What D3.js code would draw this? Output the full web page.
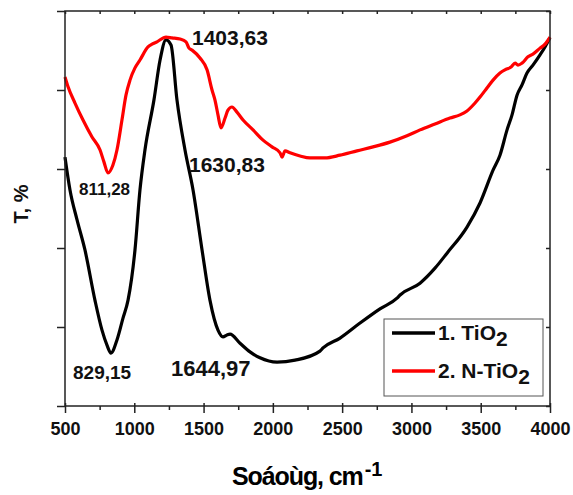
<!DOCTYPE html>
<html>
<head>
<meta charset="utf-8">
<script src="https://cdn.jsdelivr.net/npm/d3@7"></script>
<style>
  body { margin: 0; background: #fff; }
  svg { display: block; font-family: "Liberation Sans", Arial, sans-serif; }
</style>
</head>
<body>
<script>
// wavenumber (cm-1) and transmittance (%, arbitrary scale)
var tio2Wave = [500, 536, 587, 644, 716, 767, 803, 832, 875, 919, 955, 1005, 1041, 1077, 1142, 1186, 1229, 1265, 1308, 1366, 1424, 1489, 1546, 1604, 1640, 1669, 1691, 1763, 1835, 1907, 2030, 2160, 2340, 2362, 2485, 2629, 2773, 2896, 2918, 3062, 3170, 3257, 3401, 3495, 3589, 3639, 3690, 3726, 3762, 3798, 3834, 3877, 3928, 3964, 4000];
var tio2T = [63.0, 54.7, 47.1, 39.5, 26.8, 19.2, 15.4, 13.4, 16.7, 22.3, 26.8, 39.5, 54.7, 64.8, 77.5, 87.6, 92.7, 91.4, 77.5, 64.8, 54.7, 39.5, 26.8, 19.2, 17.5, 18.0, 18.2, 15.9, 13.7, 12.2, 11.1, 11.6, 13.9, 14.7, 17.2, 21.0, 24.6, 27.3, 28.1, 31.1, 34.9, 38.7, 45.3, 51.4, 59.7, 63.5, 69.9, 73.7, 78.7, 81.3, 84.3, 86.3, 88.9, 90.9, 93.2];

var ntio2Wave = [500, 522, 572, 630, 695, 753, 781, 810, 846, 875, 911, 940, 969, 1005, 1041, 1099, 1128, 1164, 1229, 1272, 1330, 1373, 1395, 1417, 1474, 1525, 1561, 1582, 1604, 1626, 1655, 1676, 1705, 1741, 1785, 1857, 1929, 1994, 2052, 2066, 2088, 2124, 2196, 2268, 2376, 2485, 2607, 2723, 2845, 2968, 3062, 3170, 3278, 3350, 3401, 3459, 3495, 3545, 3589, 3639, 3675, 3719, 3748, 3769, 3798, 3841, 3877, 3928, 3964, 4000];
var ntio2T = [83.3, 80.8, 76.7, 72.4, 68.1, 64.8, 61.8, 59.0, 61.0, 64.8, 72.4, 78.7, 82.5, 85.6, 87.6, 90.9, 91.6, 92.2, 93.4, 93.2, 92.9, 92.2, 90.6, 90.1, 88.1, 85.1, 80.0, 77.5, 73.7, 70.4, 72.9, 74.9, 75.7, 74.4, 72.4, 69.9, 67.3, 65.6, 64.1, 63.0, 64.6, 64.1, 63.3, 62.8, 62.8, 63.5, 64.6, 65.6, 66.8, 68.4, 69.9, 71.4, 72.9, 73.7, 74.7, 76.7, 78.2, 80.5, 82.5, 84.3, 85.1, 85.8, 86.8, 86.3, 86.8, 88.4, 89.1, 90.6, 91.6, 93.4];

var xTicks = [500, 1000, 1500, 2000, 2500, 3000, 3500, 4000];
var xMinor = [750, 1250, 1750, 2250, 2750, 3250, 3750];
var yTicks = [0, 20, 40, 60, 80, 100];

var peakText = ["1403,63", "1630,83", "811,28", "829,15", "1644,97"];
var seriesNames = ["1. TiO", "2. N-TiO"];
var seriesColors = ["#000000", "#ff0000"];

var width = 573, height = 495;
var pLeft = 65, pRight = 550, pTop = 11, pBottom = 406;

var svg = d3.select("body").append("svg")
  .attr("width", width)
  .attr("height", height);

var x = d3.scaleLinear().domain([500, 4000]).range([pLeft, pRight]);
var y = d3.scaleLinear().domain([0, 100]).range([pBottom, pTop]);

// curves
var line = d3.line()
  .x(function(d) { return x(d[0]); })
  .y(function(d) { return y(d[1]); })
  .curve(d3.curveMonotoneX);

var curves = [d3.zip(tio2Wave, tio2T), d3.zip(ntio2Wave, ntio2T)];

svg.selectAll("path.curve")
  .data(curves)
  .enter()
  .append("path")
  .attr("class", "curve")
  .attr("d", line)
  .attr("fill", "none")
  .attr("stroke", function(d, i) { return seriesColors[i]; })
  .attr("stroke-width", 3.2)
  .attr("stroke-linejoin", "round");

// axes
var axisColor = "#222";

var xAxis = svg.append("g")
  .attr("transform", "translate(0," + pBottom + ")")
  .call(d3.axisBottom(x).tickValues(xTicks).tickSize(7).tickPadding(9).tickFormat(d3.format("d")));
xAxis.selectAll(".tick line").clone().attr("y2", -3);

svg.append("g")
  .attr("transform", "translate(0," + pBottom + ")")
  .call(d3.axisBottom(x).tickValues(xMinor).tickSize(4).tickFormat(""));

svg.append("g")
  .attr("transform", "translate(0," + pTop + ")")
  .call(d3.axisBottom(x).tickValues(xTicks.concat(xMinor)).tickSize(3).tickFormat(""));

svg.append("g")
  .attr("transform", "translate(" + pLeft + ",0)")
  .call(d3.axisLeft(y).tickValues(yTicks).tickSize(8).tickFormat(""));

svg.append("g")
  .attr("transform", "translate(" + pRight + ",0)")
  .call(d3.axisLeft(y).tickValues(yTicks).tickSize(4).tickFormat(""));

svg.selectAll(".domain").remove();
svg.selectAll(".tick line").attr("stroke", axisColor).attr("stroke-width", 1.5);

svg.append("rect")
  .attr("x", pLeft)
  .attr("y", pTop)
  .attr("width", pRight - pLeft)
  .attr("height", pBottom - pTop)
  .attr("fill", "none")
  .attr("stroke", axisColor)
  .attr("stroke-width", 1.5);

xAxis.selectAll("text")
  .attr("font-family", "Liberation Sans, Arial, sans-serif")
  .attr("font-size", "18px")
  .attr("font-weight", "bold")
  .attr("fill", "#111");

// axis titles
var xt = svg.append("text")
  .attr("x", 232)
  .attr("y", 485)
  .attr("font-size", "25px")
  .attr("font-weight", "bold")
  .attr("fill", "#000");
xt.append("tspan")
  .attr("letter-spacing", "-1.1px")
  .text("Soáoùg, cm");
xt.append("tspan")
  .attr("dx", 2)
  .attr("dy", -9)
  .attr("font-size", "20px")
  .text("-1");

svg.append("text")
  .attr("transform", "translate(28,204) rotate(-90)")
  .attr("text-anchor", "middle")
  .attr("font-size", "20px")
  .attr("font-weight", "bold")
  .attr("fill", "#111")
  .text("T, %");

// peak labels
var labelPos = [[192, 45, 21], [189, 172, 21], [79, 195, 17], [73, 379, 19], [171, 376, 22]];
svg.selectAll("text.peak")
  .data(peakText)
  .enter()
  .append("text")
  .attr("class", "peak")
  .attr("x", function(d, i) { return labelPos[i][0]; })
  .attr("y", function(d, i) { return labelPos[i][1]; })
  .attr("font-size", function(d, i) { return labelPos[i][2] + "px"; })
  .attr("font-weight", "bold")
  .attr("fill", "#111")
  .text(function(d) { return d; });

// legend
var legend = svg.append("g");
legend.append("rect")
  .attr("x", 384)
  .attr("y", 319)
  .attr("width", 159)
  .attr("height", 77)
  .attr("fill", "#fff")
  .attr("stroke", "#555")
  .attr("stroke-width", 1);

var rows = legend.selectAll("g.row")
  .data(seriesNames)
  .enter()
  .append("g")
  .attr("class", "row")
  .attr("transform", function(d, i) { return "translate(392," + (333 + i * 38) + ")"; });

rows.append("line")
  .attr("x1", 0)
  .attr("x2", 43)
  .attr("stroke", function(d, i) { return seriesColors[i]; })
  .attr("stroke-width", 3.5);

var lt = rows.append("text")
  .attr("x", 46)
  .attr("y", 7)
  .attr("font-size", "21px")
  .attr("font-weight", "bold")
  .attr("fill", "#111");
lt.append("tspan").text(function(d) { return d; });
lt.append("tspan").text("2").attr("dy", 6).attr("font-size", "21px");
</script>
</body>
</html>
